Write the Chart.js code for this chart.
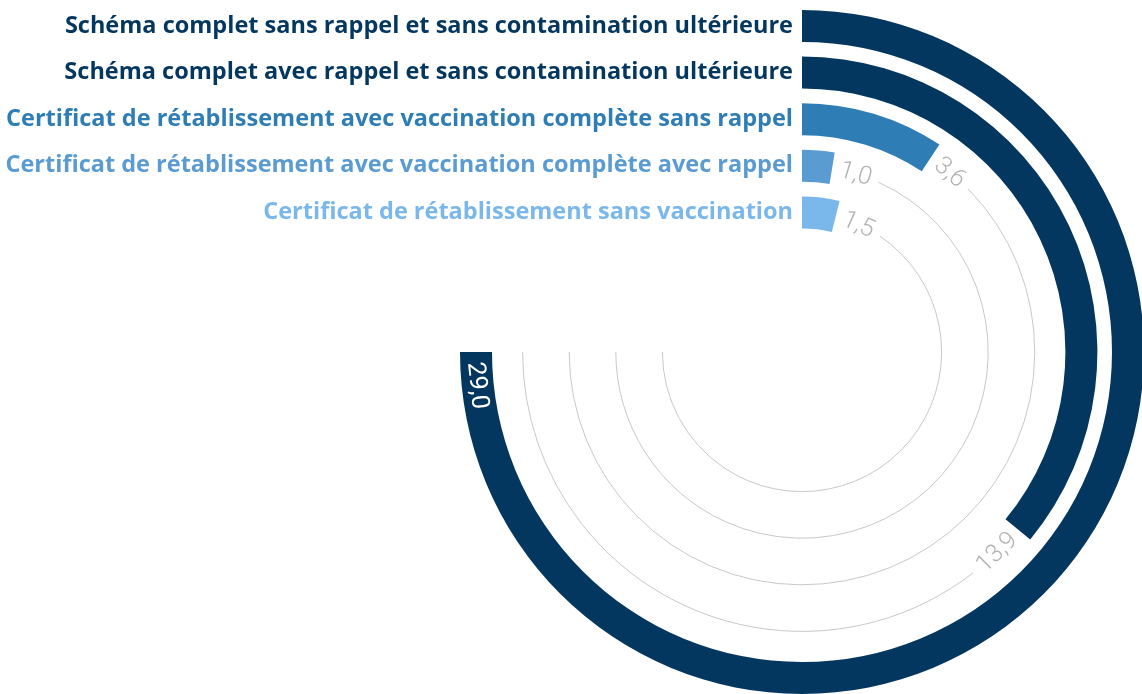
<!DOCTYPE html>
<html lang="fr">
<head>
<meta charset="utf-8">
<script src="https://cdn.jsdelivr.net/npm/chart.js@4.4.1/dist/chart.umd.min.js"></script>
<style>
  html, body { margin: 0; padding: 0; background: #fff; overflow: hidden; }
  #wrap { position: relative; width: 1142px; height: 694px; }
</style>
</head>
<body>
<div id="wrap"><canvas id="grafico"></canvas></div>
<script>
const categories = [
  'Schéma complet sans rappel et sans contamination ultérieure',
  'Schéma complet avec rappel et sans contamination ultérieure',
  'Certificat de rétablissement avec vaccination complète sans rappel',
  'Certificat de rétablissement avec vaccination complète avec rappel',
  'Certificat de rétablissement sans vaccination'
];
const values = [29.0, 13.9, 3.6, 1.0, 1.5];
const valueLabels = ['29,0', '13,9', '3,6', '1,0', '1,5'];
const scaleMax = 29.0;
const colors = ['#04375f', '#04375f', '#2e7db4', '#5a9bd2', '#7ab7ea'];

// ring geometry (px)
const outerR = 342;
const ringWidth = 32;
const gapWidth = 14.6;
const innerR = outerR - (values.length * ringWidth + (values.length - 1) * gapWidth);

const datasets = [];
values.forEach((v, i) => {
  if (i > 0) {
    datasets.push({ data: [1], backgroundColor: ['rgba(0,0,0,0)'], weight: gapWidth });
  }
  datasets.push({
    data: [v, scaleMax - v],
    backgroundColor: [colors[i], 'rgba(0,0,0,0)'],
    weight: ringWidth,
    ringIndex: i
  });
});

const radialLabels = {
  id: 'radialLabels',
  afterDatasetsDraw(chart) {
    const ctx = chart.ctx;
    chart.data.datasets.forEach((ds, di) => {
      if (ds.ringIndex === undefined) return;
      const i = ds.ringIndex;
      const meta = chart.getDatasetMeta(di);
      const bar = meta.data[0];
      const rest = meta.data[1];
      const r = (bar.innerRadius + bar.outerRadius) / 2;
      const cx = bar.x, cy = bar.y;

      ctx.save();
      // category name left of the ring start
      ctx.font = '700 23.5px "Open Sans"';
      ctx.fillStyle = colors[i];
      ctx.textAlign = 'right';
      ctx.textBaseline = 'middle';
      ctx.fillText(categories[i], cx - 9, cy - r);

      // value label along the ring
      const inside = values[i] >= scaleMax;
      ctx.font = inside ? '400 25px Roboto' : '300 25px Roboto';
      const w = ctx.measureText(valueLabels[i]).width;
      const a = inside ? bar.endAngle - (10 + w / 2) / r : bar.endAngle + (8 + w / 2) / r;
      const rot = Math.sin(a) > 0.0001 ? a - Math.PI / 2 : a + Math.PI / 2;
      ctx.translate(cx + r * Math.cos(a), cy + r * Math.sin(a));
      ctx.rotate(rot);
      ctx.textAlign = 'center';
      ctx.fillStyle = inside ? '#ffffff' : '#b3b3b3';
      ctx.fillText(valueLabels[i], 0, 1);
      ctx.restore();

      // thin track up to the scale max
      if (!inside) {
        ctx.save();
        ctx.beginPath();
        ctx.arc(cx, cy, r, bar.endAngle + (16 + w) / r, rest.endAngle);
        ctx.strokeStyle = '#c8c8c8';
        ctx.lineWidth = 1;
        ctx.stroke();
        ctx.restore();
      }
    });
  }
};

const ctx = document.getElementById('grafico').getContext('2d');
new Chart(ctx, {
  type: 'doughnut',
  data: {
    labels: ['valeur', 'reste'],
    datasets: datasets
  },
  options: {
    responsive: true,
    maintainAspectRatio: false,
    animation: false,
    circumference: 270,
    rotation: 0,
    radius: outerR,
    cutout: (innerR / outerR * 100) + '%',
    borderWidth: 0,
    layout: { padding: { left: 462, right: 0, top: 10, bottom: 0 } },
    plugins: {
      legend: { display: false },
      tooltip: { enabled: false }
    }
  },
  plugins: [radialLabels]
});
</script>
</body>
</html>
